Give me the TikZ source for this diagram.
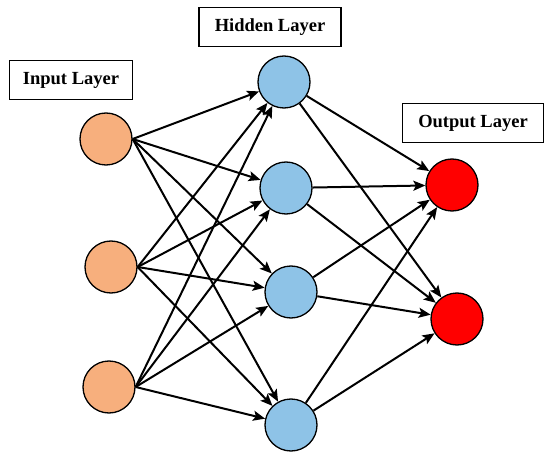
\documentclass[tikz,border=0pt]{standalone}
\usepackage{fontspec}
\setmainfont{Liberation Serif}
\usepackage{xcolor}
\usetikzlibrary{positioning,arrows.meta}
\definecolor{nIn}{HTML}{F7AF7D}
\definecolor{nHid}{HTML}{8EC3E7}
\definecolor{nOut}{HTML}{FF0000}
\tikzset{
  neuron/.style={draw, circle, line width=1.3pt, minimum size=52pt, inner sep=0pt},
  inp/.style={neuron, fill=nIn},
  hid/.style={neuron, fill=nHid},
  outp/.style={neuron, fill=nOut},
  % layer captions: plain boxed titles
  caption/.style={draw, line width=1.3pt, font=\fontsize{18.5}{22}\selectfont\bfseries,
                  minimum height=39pt, inner sep=2pt},
  wire/.style={-{Stealth[length=12pt, width=10pt, inset=2.5pt]}, line width=2pt},
}

\begin{document}
\begin{tikzpicture}[x=1pt, y=1pt]
\useasboundingbox (0,0) rectangle (550,459);

%% ── input layer ──────────────────────────────────────────────────────────
\node[inp] (i1) at (106,320) {};
\node[inp] (i2) at (111,192) {};
\node[inp] (i3) at (109,72) {};

%% ── hidden layer ─────────────────────────────────────────────────────────
\node[hid] (h1) at (284,377) {};
\node[hid] (h2) at (286,271) {};
\node[hid] (h3) at (291,167) {};
\node[hid] (h4) at (291,34) {};

%% ── output layer ─────────────────────────────────────────────────────────
\node[outp] (o1) at (452,274) {};
\node[outp] (o2) at (457,140) {};

%% ── captions ─────────────────────────────────────────────────────────────
\node[caption, minimum width=123pt] (capin)  at (71,379)  {Input Layer};
\node[caption, minimum width=142pt] (caphid) at (270,432) {Hidden Layer};
\node[caption, minimum width=141pt] (capout) at (473,336) {Output Layer};

%% ── weights: every neuron feeds every neuron of the next layer ──────────
\foreach \a in {1,2,3}
  \foreach \b in {1,2,3,4}
    \draw[wire] (i\a.east) -- (h\b);
\foreach \b in {1,2,3,4}
  \foreach \c in {1,2}
    \draw[wire] (h\b) -- (o\c);

\end{tikzpicture}
\end{document}
